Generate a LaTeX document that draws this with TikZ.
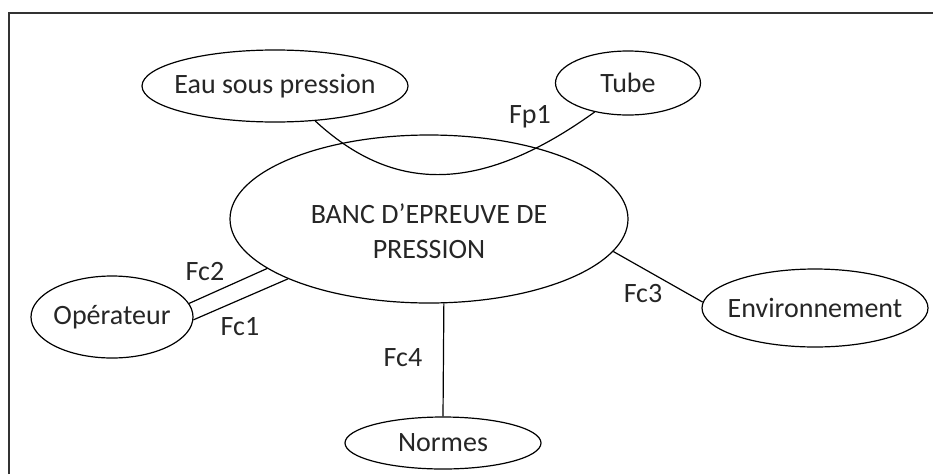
\documentclass[tikz,border=0pt]{standalone}
\usepackage{fontspec}
\setmainfont{Carlito}
\usetikzlibrary{shapes}

\begin{document}
\begin{tikzpicture}[x=1pt, y=-1pt, line width=1.2pt]
	\tikzstyle{every node} = [font=\fontsize{28}{35}\selectfont, text=black!85]
	\tikzstyle{bulle} = [ellipse, draw=black, inner xsep=-20pt, inner ysep=0pt]
	\useasboundingbox (0,0) rectangle (933,474);
	\draw [line width=1.6pt, black!80] (9,474) -- (9,13) -- (933,13);
	\node [bulle, minimum width=266pt, minimum height=72pt]  (eau)    at (275,86)  {Eau sous pression};
	\node [bulle, minimum width=145pt, minimum height=64pt]  (tube)   at (628,83)  {Tube};
	\node [bulle, minimum width=398pt, minimum height=168pt] (banc)   at (429,219) {\raisebox{-21pt}[0pt][0pt]{\begin{tabular}{@{}c@{}}BANC D’EPREUVE DE\\PRESSION\end{tabular}}};
	\node [bulle, minimum width=162pt, minimum height=82pt]  (op)     at (112,317) {Opérateur};
	\node [bulle, minimum width=226pt, minimum height=78pt]  (env)    at (815,308) {Environnement};
	\node [bulle, minimum width=196pt, minimum height=52pt]  (normes) at (443,443) {Normes};
	\node (fp1) at (530,117) {Fp1};
	\node (fc2) at (205,272) {Fc2};
	\node (fc1) at (240,327) {Fc1};
	\node (fc3) at (643,294) {Fc3};
	\node (fc4) at (403,358) {Fc4};
	\draw (eau.-41) .. controls (390,190) and (475,198) .. (tube.-139);
	\draw (op.10)    -- (banc.-163);
	\draw (op.-2)    -- (banc.-157);
	\draw (banc.-10) -- (env.177);
	\draw (banc.-80) -- (normes.north);
\end{tikzpicture}
\end{document}
